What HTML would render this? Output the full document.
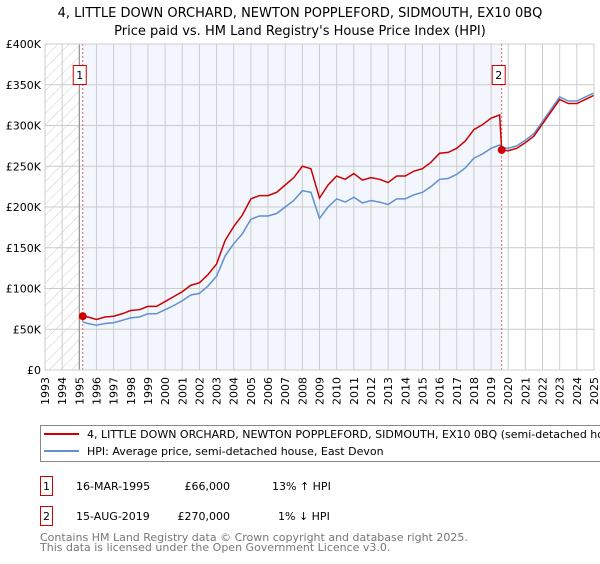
<!DOCTYPE html>
<html><head><meta charset="utf-8"><style>
body{margin:0;background:#fff;font-family:"DejaVu Sans","Liberation Sans",sans-serif;}
svg text{font-family:"DejaVu Sans","Liberation Sans",sans-serif;}
</style></head><body>
<svg id="chart" width="600" height="560" viewBox="0 0 600 560" xmlns="http://www.w3.org/2000/svg">
<defs><pattern id="hatch" patternUnits="userSpaceOnUse" width="8" height="8" patternTransform="rotate(45)"><line x1="0" y1="0" x2="0" y2="8" stroke="#ccc" stroke-width="1"/></pattern>
<clipPath id="clip"><rect x="45" y="44" width="549" height="326"/></clipPath></defs>
<text x="300" y="17" font-size="13" text-anchor="middle">4, LITTLE DOWN ORCHARD, NEWTON POPPLEFORD, SIDMOUTH, EX10 0BQ</text>
<text x="300" y="35" font-size="13" text-anchor="middle">Price paid vs. HM Land Registry's House Price Index (HPI)</text>
<g id="plot"></g>
<rect x="40.5" y="425.5" width="580" height="36" fill="#fff" stroke="#888"/>
<line x1="44" y1="434" x2="79" y2="434" stroke="#cc0000" stroke-width="2"/>
<text x="87" y="438" font-size="11">4, LITTLE DOWN ORCHARD, NEWTON POPPLEFORD, SIDMOUTH, EX10 0BQ (semi-detached house)</text>
<line x1="44" y1="451" x2="79" y2="451" stroke="#6090d0" stroke-width="2"/>
<text x="87" y="455" font-size="11">HPI: Average price, semi-detached house, East Devon</text>
<g font-size="11">
<rect x="40.5" y="476.5" width="12" height="19" fill="#fff" stroke="#cc0000"/><text x="46.5" y="490" text-anchor="middle">1</text>
<text x="76" y="490">16-MAR-1995</text><text x="230" y="490" text-anchor="end">£66,000</text><text x="272" y="490">13% ↑ HPI</text></g>
<g font-size="11">
<rect x="40.5" y="506.5" width="12" height="19" fill="#fff" stroke="#cc0000"/><text x="46.5" y="520" text-anchor="middle">2</text>
<text x="76" y="520">15-AUG-2019</text><text x="230" y="520" text-anchor="end">£270,000</text><text x="278" y="520">1% ↓ HPI</text></g>
<text x="40" y="541" font-size="11" fill="#777">Contains HM Land Registry data © Crown copyright and database right 2025.</text>
<text x="40" y="551" font-size="11" fill="#777">This data is licensed under the Open Government Licence v3.0.</text>
</svg>
<script>
const years=[1995.2,1995.5,1996,1996.5,1997,1997.5,1998,1998.5,1999,1999.5,2000,2000.5,2001,2001.5,2002,2002.5,2003,2003.5,2004,2004.5,2005,2005.5,2006,2006.5,2007,2007.5,2008,2008.5,2009,2009.5,2010,2010.5,2011,2011.5,2012,2012.5,2013,2013.5,2014,2014.5,2015,2015.5,2016,2016.5,2017,2017.5,2018,2018.5,2019,2019.5,2019.62,2020,2020.5,2021,2021.5,2022,2022.5,2023,2023.5,2024,2024.5,2025];
const hpiValues=[59,57,55,57,58,61,64,65,69,69,74,79,85,92,94,103,115,140,155,167,185,189,189,192,200,208,220,218,186,200,210,206,212,205,208,206,203,210,210,215,218,225,234,235,240,248,260,265,272,276,273,272,275,282,290,305,320,335,330,330,335,340];
const priceValues=[66,65,62,65,66,69,73,74,78,78,84,90,96,104,107,117,130,159,176,190,210,214,214,218,227,236,250,247,211,227,238,234,241,233,236,234,230,238,238,244,247,255,266,267,272,281,295,301,309,313,270,269,272,279,287,302,317,332,327,327,332,337];
const yTicks=[0,50,100,150,200,250,300,350,400];
const yTickLabels=["£0","£50K","£100K","£150K","£200K","£250K","£300K","£350K","£400K"];
const xTicks=[1993,1994,1995,1996,1997,1998,1999,2000,2001,2002,2003,2004,2005,2006,2007,2008,2009,2010,2011,2012,2013,2014,2015,2016,2017,2018,2019,2020,2021,2022,2023,2024,2025];
const saleYears=[1995.2,2019.62];
const salePrices=[66,270];
const saleLabels=["1","2"];
const X0=45,X1=594,Y0=370,Y1=44;
const xs=y=>X0+(y-1993)/(2025-1993)*(X1-X0);
const ys=v=>Y0-v/400*(Y0-Y1);
const NS="http://www.w3.org/2000/svg";
const plot=document.getElementById('plot');
function mk(tag,attrs,parent){const e=document.createElementNS(NS,tag);for(const k in attrs)e.setAttribute(k,attrs[k]);(parent||plot).appendChild(e);return e;}
const bg=mk('rect',{x:X0,y:Y1,width:X1-X0,height:Y0-Y1,fill:'#fff'});


const hat=mk('rect',{x:X0,y:Y1,width:xs(1995)-X0,height:Y0-Y1,fill:'url(#hatch)'});


const shade=mk('rect',{x:xs(saleYears[0]),y:Y1,width:xs(saleYears[1])-xs(saleYears[0]),height:Y0-Y1,fill:'#f3f6fd'});


xTicks.forEach(t=>{const l=mk('line',{x1:xs(t),x2:xs(t),y1:Y1,y2:Y0,stroke:'#ccc'});


const tx=mk('text',{x:0,y:0,'font-size':'11',transform:`translate(${xs(t)+4},${Y0+35}) rotate(-90)`});tx.textContent=t;

});
yTicks.forEach((t,i)=>{const l=mk('line',{x1:X0,x2:X1,y1:ys(t),y2:ys(t),stroke:'#ccc'});


const tx=mk('text',{x:X0-4,y:ys(t)+4,'font-size':'11','text-anchor':'end'});tx.textContent=yTickLabels[i];

});
const vx=mk('line',{x1:xs(1995),x2:xs(1995),y1:Y1,y2:Y0,stroke:'#888'});


saleYears.forEach((s,i)=>{const l=mk('line',{x1:xs(s),x2:xs(s),y1:Y1,y2:Y0,stroke:'#e06060','stroke-dasharray':'2,2'});

});
const g=mk('g',{'clip-path':'url(#clip)'});
const hp=mk('polyline',{points:years.map((y,i)=>xs(y)+','+ys(hpiValues[i])).join(' '),fill:'none',stroke:'#6090d0','stroke-width':'1.5'},g);


const pp=mk('polyline',{points:years.map((y,i)=>xs(y)+','+ys(priceValues[i])).join(' '),fill:'none',stroke:'#cc0000','stroke-width':'1.5'},g);


saleYears.forEach((s,i)=>{const c=mk('circle',{cx:xs(s),cy:ys(salePrices[i]),r:4,fill:'#cc0000'});


const bx=xs(s)-9;const r=mk('rect',{x:bx-0.5,y:65.5,width:13,height:19,fill:'#fff',stroke:'#cc0000'});


const t=mk('text',{x:bx+6,y:79,'font-size':'11','text-anchor':'middle'});t.textContent=saleLabels[i];

});
const fr=mk('rect',{x:X0,y:Y1,width:X1-X0,height:Y0-Y1,fill:'none',stroke:'#ccc'});


</script>
</body></html>
